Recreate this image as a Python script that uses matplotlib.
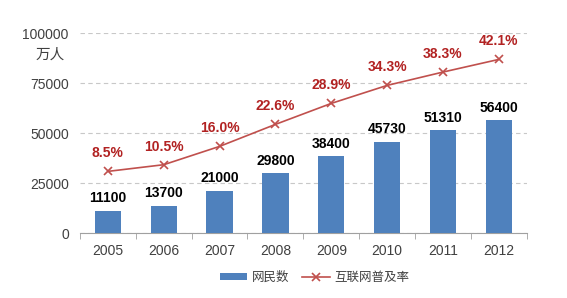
import matplotlib

matplotlib.use("Agg")
import matplotlib.pyplot as plt
from matplotlib.lines import Line2D
from matplotlib.patches import Patch

plt.rcParams["font.family"] = ["Liberation Sans", "Noto Sans CJK SC", "DejaVu Sans"]

years = ["2005", "2006", "2007", "2008", "2009", "2010", "2011", "2012"]
netizens = [11100, 13700, 21000, 29800, 38400, 45730, 51310, 56400]
penetration = [8.5, 10.5, 16.0, 22.6, 28.9, 34.3, 38.3, 42.1]

bar_color = "#4F81BD"
line_color = "#C0504D"
label_red = "#B22222"
text_gray = "#404040"

fig = plt.figure(figsize=(5.67, 2.98), dpi=100)
ax = fig.add_axes([0.141, 0.218, 0.788, 0.671])
x = list(range(len(years)))

ax.bar(x, netizens, width=0.47, color=bar_color, zorder=3)
for xi, v in zip(x, netizens):
    ax.annotate(f"{v}", (xi, v), xytext=(0, 4), textcoords="offset points",
                ha="center", va="bottom", fontsize=10, fontweight="bold", color="black")

ax.set_xlim(-0.5, len(years) - 0.5)
ax.set_ylim(0, 100000)
ax.set_yticks([0, 25000, 50000, 75000, 100000])
ax.yaxis.grid(True, linestyle=(0, (4, 3)), color="#C8C8C8", linewidth=0.8)
ax.set_axisbelow(True)
ax.set_xticks(x)
ax.set_xticklabels(years)
ax.set_xticks([i + 0.5 for i in range(-1, len(years))], minor=True)
ax.tick_params(axis="x", which="major", length=0, pad=8, labelsize=10, labelcolor=text_gray)
ax.tick_params(axis="x", which="minor", length=4, color="#A0A0A0", direction="out")
ax.tick_params(axis="y", length=0, pad=8, labelsize=10, labelcolor=text_gray)
for side in ("left", "right", "top"):
    ax.spines[side].set_visible(False)
ax.spines["bottom"].set_color("#A0A0A0")

fig.text(0.088, 0.815, "万人", ha="center", va="center", fontsize=10.5, color=text_gray)

ax2 = ax.twinx()
ax2.plot(x, penetration, color=line_color, marker="x", markersize=6,
         markeredgewidth=1.2, linewidth=1.2, zorder=4)
ax2.set_ylim(-10, 50)
ax2.set_xlim(-0.5, len(years) - 0.5)
ax2.axis("off")
for xi, p in zip(x, penetration):
    ax2.annotate(f"{p:.1f}%", (xi, p), xytext=(0, 8), textcoords="offset points",
                 ha="center", va="bottom", fontsize=10, fontweight="bold", color=label_red)

handles = [
    Patch(facecolor=bar_color, edgecolor="none"),
    Line2D([0], [0], color=line_color, marker="x", markersize=6, markeredgewidth=1.2, linewidth=1.2),
]
fig.legend(handles, ["网民数", "互联网普及率"], loc="center", bbox_to_anchor=(0.555, 0.068),
           ncol=2, frameon=False, fontsize=9, handlelength=2.2, handleheight=0.5,
           columnspacing=1.0, handletextpad=0.4, labelcolor=text_gray)

fig.savefig("out.png", dpi=100)
